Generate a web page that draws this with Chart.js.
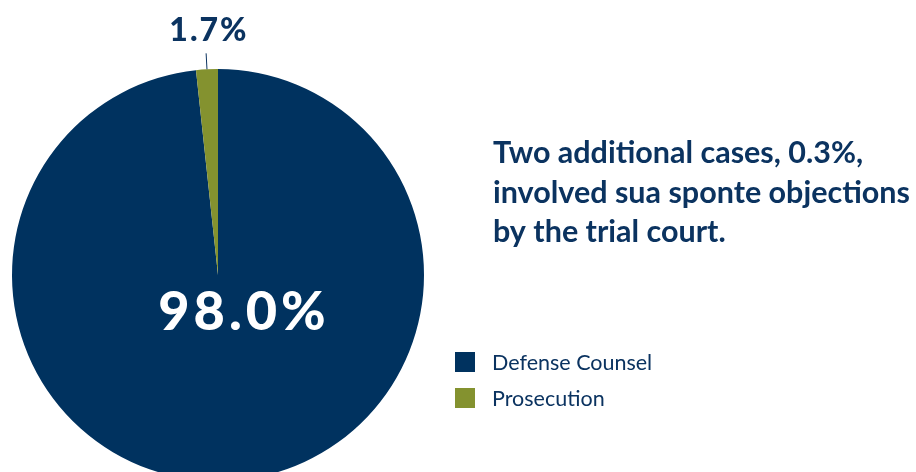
<!DOCTYPE html>
<html>
<head>
<meta charset="utf-8">
<script src="https://cdn.jsdelivr.net/npm/chart.js@4.4.1/dist/chart.umd.min.js"></script>
<style>
  html, body { margin: 0; padding: 0; background: #fff; overflow: hidden; }
  #wrap { position: relative; width: 916px; height: 500px; }
</style>
</head>
<body>
<div id="wrap"><canvas id="pie"></canvas></div>
<script>
// chart data
const categories = ['Defense Counsel', 'Prosecution'];
const shares = [98.0, 1.7];
const sliceColors = ['#00325f', '#84922f'];
const noteLines = ['Two additional cases, 0.3%,', 'involved sua sponte objections', 'by the trial court.'];

const NAVY = '#0b3360';

const annotate = {
    id: 'annotate',
    afterDraw(chart) {
        const ctx = chart.ctx;
        const meta = chart.getDatasetMeta(0);
        const big = meta.data[0];
        const small = meta.data[1];
        ctx.save();

        // big slice label
        ctx.fillStyle = '#ffffff';
        ctx.font = '900 54px Lato';
        ctx.letterSpacing = '4px';
        ctx.textAlign = 'center';
        ctx.textBaseline = 'alphabetic';
        ctx.fillText(shares[0].toFixed(1) + '%', big.x + 26, big.y + 55);

        // small slice: leader line + label
        const mid = (small.startAngle + small.endAngle) / 2;
        const r = small.outerRadius;
        ctx.strokeStyle = NAVY;
        ctx.lineWidth = 1;
        ctx.beginPath();
        ctx.moveTo(small.x + Math.cos(mid) * r, small.y + Math.sin(mid) * r);
        ctx.lineTo(small.x + Math.cos(mid) * (r + 16), small.y + Math.sin(mid) * (r + 16));
        ctx.stroke();
        ctx.fillStyle = NAVY;
        ctx.font = '900 32px Lato';
        ctx.letterSpacing = '2px';
        ctx.fillText(shares[1].toFixed(1) + '%', small.x + Math.cos(mid) * r + 2, 41);

        // note text
        ctx.textAlign = 'left';
        ctx.letterSpacing = '0px';
        ctx.font = 'bold 30.5px Lato';
        noteLines.forEach((line, i) => {
            ctx.fillText(line, 493, 163 + i * 39.5);
        });

        // legend
        ctx.font = '21.5px Lato';
        categories.forEach((label, i) => {
            ctx.fillStyle = sliceColors[i];
            ctx.fillRect(455, 352 + i * 36, 20, 20);
            ctx.fillStyle = NAVY;
            ctx.fillText(label, 492, 370 + i * 36);
        });
        ctx.restore();
    }
};

new Chart(document.getElementById('pie'), {
    type: 'pie',
    data: {
        labels: categories,
        datasets: [{
            data: shares,
            backgroundColor: sliceColors,
            borderWidth: 0
        }]
    },
    options: {
        responsive: true,
        maintainAspectRatio: false,
        animation: false,
        layout: { padding: { left: 12, top: 69, right: 492, bottom: 19 } },
        plugins: {
            legend: { display: false },
            tooltip: { enabled: false }
        }
    },
    plugins: [annotate]
});
</script>
</body>
</html>
